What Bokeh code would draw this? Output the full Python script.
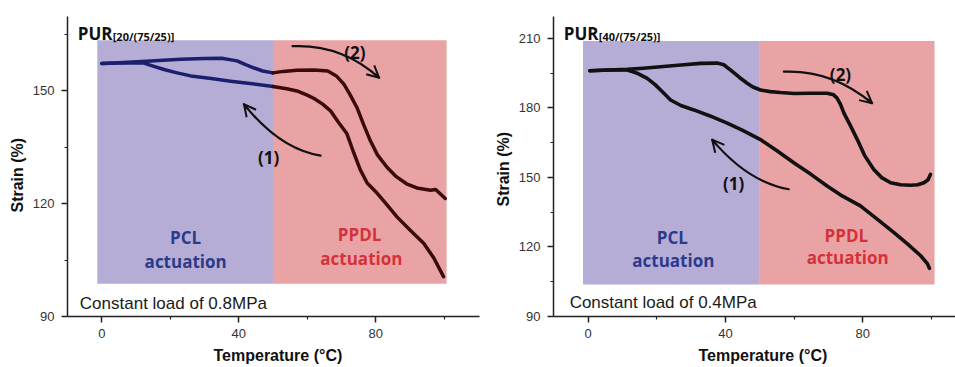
import numpy as np
from bokeh.plotting import figure
from bokeh.layouts import row
from bokeh.models import Range1d, FixedTicker, Label, Arrow, OpenHead, Title
from bokeh.embed import file_html
from bokeh.resources import INLINE

# ---------------- data ----------------
# Left panel: PUR[20/(75/25)], constant load 0.8 MPa
L_heat_T = [0, 5, 13, 23, 30, 35, 39.5, 42, 44.5, 47, 50, 53, 57, 62, 66, 68.5, 70.7, 72.5,
            74.5, 76.5, 78.4, 80.5, 83.3, 86, 89, 92, 96, 97.5, 100.3]
L_heat_S = [157.3, 157.5, 157.9, 158.4, 158.6, 158.7, 158.0, 157.0, 156.1, 155.3, 154.8, 155.2,
            155.5, 155.6, 155.3, 154.0, 151.8, 149.0, 145.6, 141.0, 136.8, 133.0, 129.7, 127.2,
            125.3, 124.2, 123.6, 123.8, 121.4]
L_cool_T = [0, 5, 12.3, 15, 18.2, 22, 26, 32, 37.6, 44, 50, 54, 57, 60, 62, 64.5, 66.8, 69,
            71.6, 73.6, 75.5, 77.5, 80, 83, 86.2, 90, 94, 97, 99.8]
L_cool_S = [157.3, 157.4, 157.4, 156.6, 155.7, 154.8, 154.0, 153.3, 152.6, 151.9, 151.2, 150.6,
            150.0, 148.9, 148.0, 146.5, 144.7, 141.8, 138.6, 133.5, 129.0, 125.5, 123.2, 120.0,
            116.5, 113.0, 109.5, 105.5, 100.6]

# Right panel: PUR[40/(75/25)], constant load 0.4 MPa
R_heat_T = [0.5, 6, 11.4, 16, 21.1, 27, 32.8, 37.6, 39.5, 41.5, 44, 46.3, 48, 50.2, 53, 56, 60,
            64.8, 69.6, 71.5, 72.5, 73.5, 74.5, 76.5, 78.4, 80.5, 83.2, 85.5, 88.1, 91, 93.9,
            96, 97.8, 99, 99.7]
R_heat_S = [196, 196.3, 196.6, 197.1, 197.7, 198.5, 199.2, 199.3, 198.6, 196.3, 193.2, 190.6,
            189.0, 187.7, 187.0, 186.6, 186.2, 186.3, 186.3, 185.6, 184.2, 181.5, 177.7, 172.0,
            166.3, 159.5, 153.4, 149.9, 147.7, 146.8, 146.6, 146.8, 147.7, 149.0, 151.3]
R_cool_T = [0.5, 6, 11.4, 14.5, 17.2, 19.5, 21.1, 24, 27, 30.8, 35.5, 40.5, 45, 50.2, 55, 59.9,
            65, 69.6, 74, 79.3, 84, 89, 93, 96.8, 98.8, 99.4]
R_cool_S = [196, 196.3, 196.3, 194.8, 192.7, 190.0, 187.7, 183.4, 181.0, 179.1, 176.5, 173.4,
            170.3, 166.3, 161.5, 156.3, 151.2, 146.3, 142.0, 137.7, 132.2, 126.3, 121.3, 116.3,
            112.8, 110.8]

# shaded actuation windows (temperature limits, strain limits)
L_pcl_T = [-1.3, 50]
L_ppdl_T = [50, 100.7]
L_band_S = [98.7, 163.5]
R_pcl_T = [-1.5, 50]
R_ppdl_T = [50, 100.9]
R_band_S = [103.8, 208.8]

x_major = [0, 40, 80]
x_minor = [20, 60, 100]
L_y_major = [90, 120, 150]
L_y_minor = [105, 135, 165]
R_y_major = [90, 120, 150, 180, 210]
R_y_minor = [105, 135, 165, 195]

# ---------------- styling ----------------
PCL_FILL = "#b5add6"
PPDL_FILL = "#eaa3a4"
PCL_TEXT = "#2d3a8a"
PPDL_TEXT = "#d3323a"
BLUE_LINE = "#1b1f6e"
RED_LINE = "#3b0a0c"
BLACK = "#111111"
BOLD_FONT = "Open Sans"
ARIAL = "Liberation Sans"


def make_fig(width, border_left, border_right, border_top, border_bottom,
             x_start, x_end, y_end, y_major, y_minor):
    p = figure(width=width, height=367, output_backend="svg", toolbar_location=None,
               x_range=Range1d(x_start, x_end), y_range=Range1d(90, y_end),
               min_border_left=border_left, min_border_right=border_right,
               min_border_top=border_top, min_border_bottom=border_bottom)
    p.outline_line_color = None
    p.grid.visible = False
    p.background_fill_color = "white"
    p.xaxis.ticker = FixedTicker(ticks=x_major, minor_ticks=x_minor)
    p.yaxis.ticker = FixedTicker(ticks=y_major, minor_ticks=y_minor)
    for ax in (p.xaxis[0], p.yaxis[0]):
        ax.axis_line_color = "#222222"
        ax.axis_line_width = 1.5
        ax.major_tick_line_color = "#222222"
        ax.major_tick_line_width = 1.5
        ax.minor_tick_line_color = "#222222"
        ax.minor_tick_line_width = 1.2
        ax.major_tick_in = 0
        ax.major_tick_out = 6
        ax.minor_tick_in = 0
        ax.minor_tick_out = 3
        ax.major_label_text_font = ARIAL
        ax.major_label_text_font_size = "13px"
        ax.major_label_text_color = "#333333"
    p.yaxis[0].major_label_standoff = 7
    p.xaxis[0].major_label_standoff = 6
    return p


def add_label(p, x, y, text, font, size, color, style="bold", align="left", angle=0,
              baseline="alphabetic"):
    p.add_layout(Label(x=x, y=y, text=text, text_font=font, text_font_size=size,
                       text_color=color, text_font_style=style, text_align=align,
                       text_baseline=baseline, angle=angle))


def add_axis_title(p, side, text, offset, standoff):
    p.add_layout(Title(text=text, align="left", offset=offset, standoff=standoff,
                       text_font=ARIAL, text_font_size="16px", text_font_style="bold",
                       text_color=BLACK), side)


def add_arrow(p, start, ctrl, end):
    p.quadratic(x0=[start[0]], y0=[start[1]], x1=[end[0]], y1=[end[1]],
                cx=[ctrl[0]], cy=[ctrl[1]], line_width=2.2, line_color=BLACK,
                line_cap="round")
    f = 0.12
    xs = end[0] - f * (end[0] - ctrl[0])
    ys = end[1] - f * (end[1] - ctrl[1])
    p.add_layout(Arrow(end=OpenHead(size=12, line_width=2, line_color=BLACK),
                       x_start=xs, y_start=ys, x_end=end[0], y_end=end[1],
                       line_width=2.2, line_color=BLACK))


def split(T, S, lim):
    T = np.asarray(T, float)
    S = np.asarray(S, float)
    lo = T <= lim
    hi = T >= lim
    return (T[lo], S[lo]), (T[hi], S[hi])


# ---------------- left panel ----------------
p1 = make_fig(480, 67, 1, 15, 50, -10, 110.3, 169.8, L_y_major, L_y_minor)
p1.quad(left=[L_pcl_T[0]], right=[L_pcl_T[1]], bottom=[L_band_S[0]], top=[L_band_S[1]],
        fill_color=PCL_FILL, line_color=None)
p1.quad(left=[L_ppdl_T[0]], right=[L_ppdl_T[1]], bottom=[L_band_S[0]], top=[L_band_S[1]],
        fill_color=PPDL_FILL, line_color=None)
for T, S in ((L_heat_T, L_heat_S), (L_cool_T, L_cool_S)):
    (tl, sl), (th, sh) = split(T, S, 50)
    p1.line(tl, sl, line_width=3.5, line_color=BLUE_LINE, line_join="round", line_cap="round")
    p1.line(th, sh, line_width=3.5, line_color=RED_LINE, line_join="round", line_cap="round")

add_arrow(p1, (63.9, 132.8), (52.0, 134.5), (41.5, 146.5))
add_arrow(p1, (55.7, 161.9), (70.0, 162.5), (81.0, 153.5))
add_label(p1, 48.7, 132.4, "(1)", BOLD_FONT, "17px", BLACK, align="center")
add_label(p1, 73.9, 160.3, "(2)", BOLD_FONT, "17px", BLACK, align="center")
add_label(p1, 24.5, 111.1, "PCL", BOLD_FONT, "17px", PCL_TEXT, align="center")
add_label(p1, 24.5, 104.5, "actuation", BOLD_FONT, "17px", PCL_TEXT, align="center")
add_label(p1, 75.3, 111.7, "PPDL", BOLD_FONT, "17px", PPDL_TEXT, align="center")
add_label(p1, 75.8, 105.5, "actuation", BOLD_FONT, "17px", PPDL_TEXT, align="center")
add_label(p1, -6.4, 93.4, "Constant load of 0.8MPa", ARIAL, "17px", "#1a1a1a", style="normal")
add_label(p1, -7.0, 165.3, "PUR", BOLD_FONT, "17px", BLACK)
add_label(p1, 3.2, 164.5, "[20/(75/25)]", BOLD_FONT, "11px", BLACK)
add_axis_title(p1, "left", "Strain (%)", 104, 8)
add_axis_title(p1, "below", "Temperature (°C)", 146, 8)

# ---------------- right panel ----------------
p2 = make_fig(475, 73, 0, 16, 49, -10.1, 107.0, 219.4, R_y_major, R_y_minor)
p2.quad(left=[R_pcl_T[0]], right=[R_pcl_T[1]], bottom=[R_band_S[0]], top=[R_band_S[1]],
        fill_color=PCL_FILL, line_color=None)
p2.quad(left=[R_ppdl_T[0]], right=[R_ppdl_T[1]], bottom=[R_band_S[0]], top=[R_band_S[1]],
        fill_color=PPDL_FILL, line_color=None)
p2.line(R_heat_T, R_heat_S, line_width=3.6, line_color=BLACK, line_join="round", line_cap="round")
p2.line(R_cool_T, R_cool_S, line_width=3.6, line_color=BLACK, line_join="round", line_cap="round")

add_arrow(p2, (58.4, 144.9), (46.5, 148.0), (36.1, 166.3))
add_arrow(p2, (57.0, 195.6), (71.0, 196.5), (82.7, 182.0))
add_label(p2, 42.4, 147.3, "(1)", BOLD_FONT, "17px", BLACK, align="center")
add_label(p2, 73.5, 194.5, "(2)", BOLD_FONT, "17px", BLACK, align="center")
add_label(p2, 24.5, 124.2, "PCL", BOLD_FONT, "17px", PCL_TEXT, align="center")
add_label(p2, 24.8, 114.1, "actuation", BOLD_FONT, "17px", PCL_TEXT, align="center")
add_label(p2, 75.2, 125.1, "PPDL", BOLD_FONT, "17px", PPDL_TEXT, align="center")
add_label(p2, 75.6, 115.6, "actuation", BOLD_FONT, "17px", PPDL_TEXT, align="center")
add_label(p2, -5.4, 95.9, "Constant load of 0.4MPa", ARIAL, "17px", "#1a1a1a", style="normal")
add_label(p2, -7.1, 212.2, "PUR", BOLD_FONT, "17px", BLACK)
add_label(p2, 3.1, 210.9, "[40/(75/25)]", BOLD_FONT, "11px", BLACK)
add_axis_title(p2, "left", "Strain (%)", 110, 8)
add_axis_title(p2, "below", "Temperature (°C)", 145, 8)

layout = row(p1, p2)
open("out.html", "w").write(file_html(layout, INLINE))
